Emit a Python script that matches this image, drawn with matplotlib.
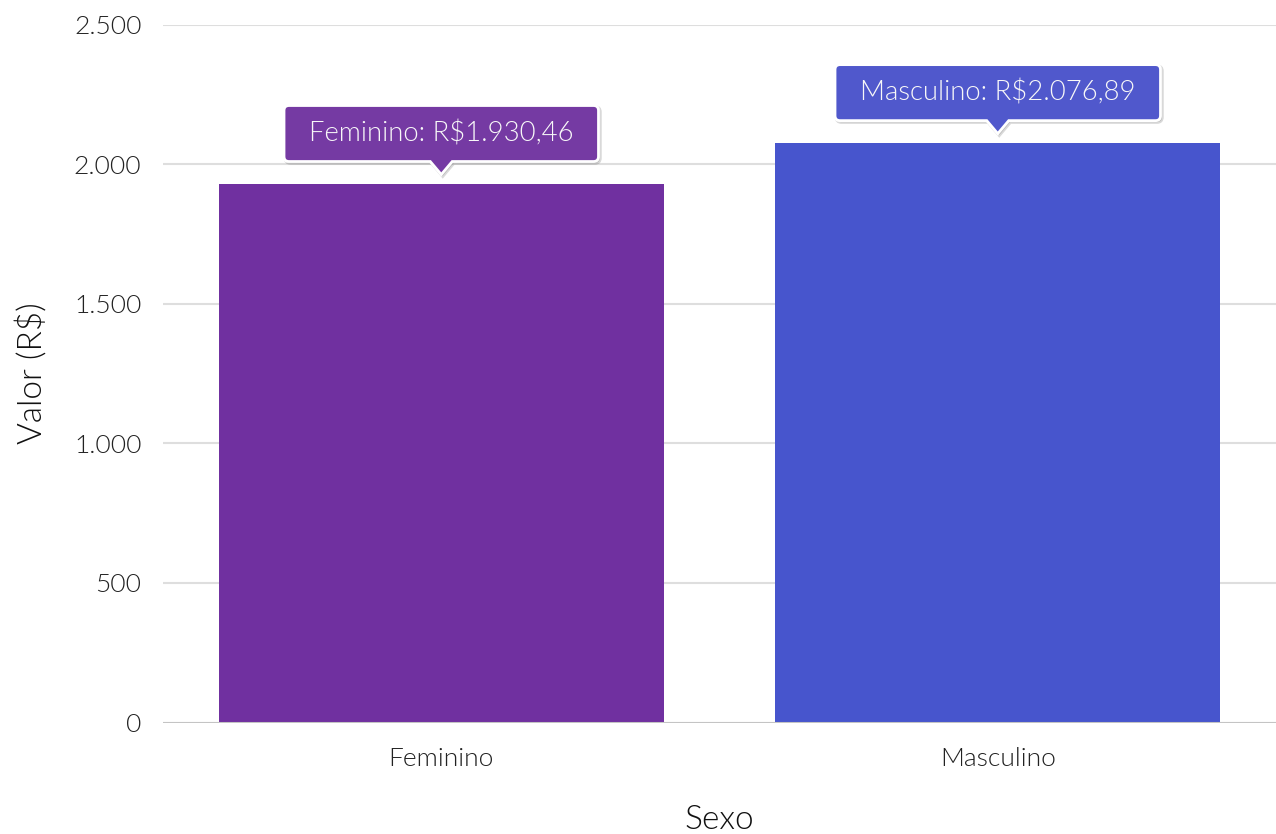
import matplotlib
matplotlib.use("Agg")
import matplotlib.pyplot as plt
from matplotlib.path import Path
from matplotlib.patches import PathPatch
from matplotlib.transforms import IdentityTransform
from matplotlib.ticker import FuncFormatter

# dados do grafico
categorias = ["Feminino", "Masculino"]
valores = [1930.46, 2076.89]
rotulos_tooltip = ["Feminino: R$1.930,46", "Masculino: R$2.076,89"]
cores_barra = ["#7030a0", "#4755cd"]
cores_tooltip = ["#753aa3", "#5058cc"]

plt.rcParams["font.family"] = ["Lato", "DejaVu Sans"]
plt.rcParams["font.weight"] = 300

fig = plt.figure(figsize=(12.76, 8.34), dpi=100)
ax = fig.add_axes([163 / 1276, 111.5 / 834, 1113 / 1276, 698 / 834])

pos = list(range(len(categorias)))
ax.bar(pos, valores, width=0.8, color=cores_barra, zorder=3)
ax.set_xlim(-0.5, len(categorias) - 0.5)
ax.set_ylim(0, 2500)
ax.set_yticks([0, 500, 1000, 1500, 2000, 2500])
ax.yaxis.set_major_formatter(FuncFormatter(lambda v, p: f"{int(v):,}".replace(",", ".")))
ax.set_xticks(pos)
ax.set_xticklabels(categorias)

for s in ax.spines.values():
    s.set_visible(False)
ax.grid(axis="y", color="#dedede", linewidth=1.5, zorder=0)
ax.axhline(0, color="#c4c4c4", linewidth=2.2, zorder=4)
ax.tick_params(axis="both", length=0, labelsize=19, labelcolor="#222222")
for lab in ax.get_xticklabels() + ax.get_yticklabels():
    lab.set_fontweight(300)
ax.tick_params(axis="y", pad=15.5)
ax.tick_params(axis="x", pad=18)
ax.set_xlabel("Sexo", fontsize=24, color="#111111", labelpad=24, fontweight=300)
ax.set_ylabel("Valor (R$)", fontsize=24, color="#111111", labelpad=19, fontweight=300)

# tooltips (em pixels)
fig.canvas.draw()
renderer = fig.canvas.get_renderer()
alt_box, pad_x, r = 56, 25, 5
ponta_h, ponta_w, folga = 13, 11, 9
for i, (v, txt, cor) in enumerate(zip(valores, rotulos_tooltip, cores_tooltip)):
    cx, topo = ax.transData.transform((pos[i], v))
    B = topo + folga + ponta_h
    T = B + alt_box
    t = fig.text(cx, B + alt_box / 2, txt, transform=IdentityTransform(),
                 ha="center", va="center", fontsize=19.8, color="#f8f8f8",
                 fontweight=300, zorder=12)
    w = t.get_window_extent(renderer).width + 2 * pad_x
    L, R = cx - w / 2, cx + w / 2
    verts = [(L + r, B), (cx - ponta_w, B), (cx, B - ponta_h), (cx + ponta_w, B),
             (R - r, B), (R, B), (R, B + r), (R, T - r), (R, T), (R - r, T),
             (L + r, T), (L, T), (L, T - r), (L, B + r), (L, B), (L + r, B), (L + r, B)]
    codes = [Path.MOVETO, Path.LINETO, Path.LINETO, Path.LINETO,
             Path.LINETO, Path.CURVE3, Path.CURVE3, Path.LINETO, Path.CURVE3, Path.CURVE3,
             Path.LINETO, Path.CURVE3, Path.CURVE3, Path.LINETO, Path.CURVE3, Path.CURVE3,
             Path.CLOSEPOLY]
    sombra = PathPatch(Path([(x + 1.5, y - 1.5) for x, y in verts], codes), transform=IdentityTransform(),
                       facecolor="#000000", edgecolor="#000000", linewidth=2.5, alpha=0.15, zorder=10)
    caixa = PathPatch(Path(verts, codes), transform=IdentityTransform(),
                      facecolor=cor, edgecolor="white", linewidth=2, zorder=11)
    fig.add_artist(sombra)
    fig.add_artist(caixa)

fig.savefig("out.png", dpi=100)
